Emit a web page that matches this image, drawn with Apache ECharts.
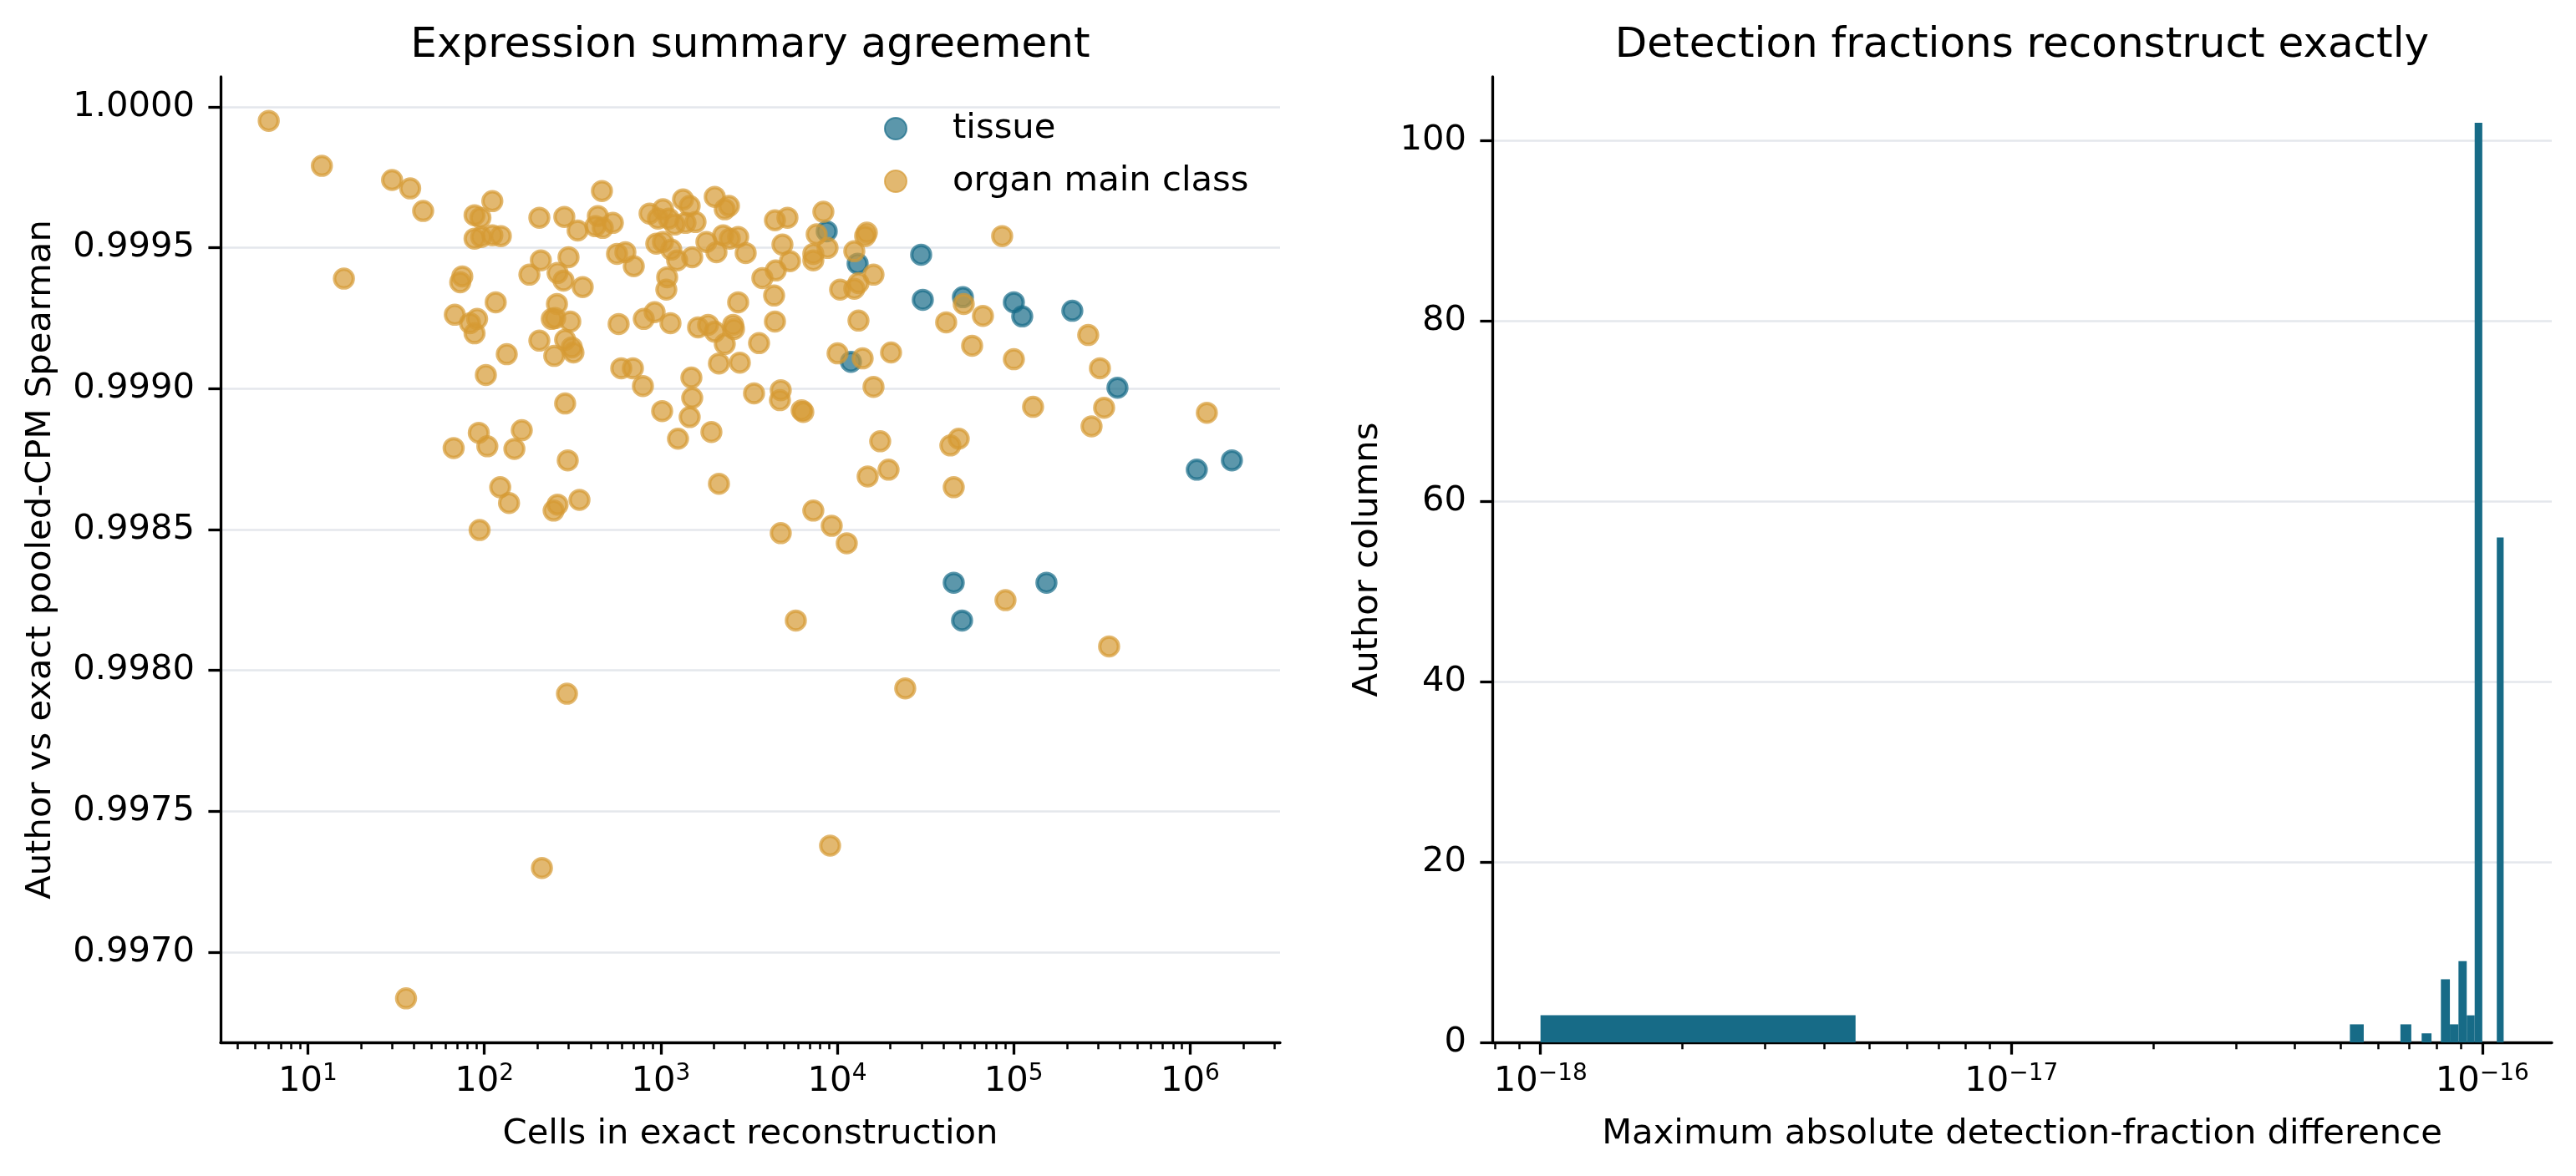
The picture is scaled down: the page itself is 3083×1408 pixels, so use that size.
<!doctype html>
<html>
<head>
<meta charset="utf-8">
<title>Expression summary agreement</title>
<script src="https://cdn.jsdelivr.net/npm/echarts@6.0.0/dist/echarts.min.js"></script>
<style>
    html, body {margin: 0; padding: 0; background: #fff;}
    #chart {width: 3083px; height: 1408px;}
</style>
</head>
<body>
<div id="chart"></div>
<script>
    // left panel: author vs exact pooled-CPM Spearman, by grouping level
    var tissueCells = [8718, 13050, 29890, 30550, 51550, 100250, 111800, 215000, 387500, 11960,
        1091000, 1725000, 45740, 153400, 50990];
    var tissueRho = [0.999558, 0.999443, 0.999475, 0.999315, 0.999324, 0.999306, 0.999256, 0.999276, 0.999003, 0.999095,
        0.998712, 0.998745, 0.998311, 0.998311, 0.998177];

    var organCells = [6, 12, 30, 38, 45, 16, 111, 88, 95, 88,
        96, 111, 124, 205, 284, 338, 464, 440, 426, 469,
        535, 209, 300, 180, 260, 281, 361, 75, 73, 116,
        68, 91, 83, 88, 134, 102, 258, 241, 252, 307,
        205, 287, 313, 320, 249, 287, 93, 163, 67, 104,
        148, 297, 123, 138, 247, 260, 346, 94, 294, 212,
        36, 565, 630, 703, 864, 1029, 964, 1110, 1198, 1381,
        1337, 1458, 1574, 943, 1029, 1147, 1238, 1507, 1087, 1075,
        577, 801, 923, 1135, 1627, 597, 695, 792, 1491, 1507,
        1018, 1458, 1252, 2022, 2305, 2434, 4437, 5223, 8346, 2256,
        2461, 2745, 1814, 2068, 3028, 4892, 7647, 8815, 7320, 7320,
        5397, 4485, 3765, 4388, 2745, 4437, 1854, 2022, 2571, 2599,
        2305, 3605, 2136, 2805, 3377, 4786, 4734, 6284, 6423, 1936,
        2136, 7320, 4786, 9307, 11325, 5826, 9107, 12495, 14713, 14396,
        16056, 10380, 12495, 13197, 13197, 10046, 13935, 20184, 16056, 17517,
        14876, 19537, 86040, 41440, 52120, 66970, 58140, 100250, 128800, 264500,
        308200, 325500, 276300, 43770, 48820, 45740, 1244000, 89870, 347400, 24290];
    var organRho = [0.99995, 0.99979, 0.99974, 0.99971, 0.99963, 0.99939, 0.999665, 0.999615, 0.999606, 0.999532,
        0.999538, 0.999544, 0.999541, 0.999606, 0.999609, 0.999561, 0.999701, 0.999612, 0.999576, 0.99957,
        0.999588, 0.999455, 0.999466, 0.999404, 0.99941, 0.999383, 0.99936, 0.999398, 0.999377, 0.999306,
        0.999262, 0.999247, 0.999232, 0.999196, 0.999122, 0.999048, 0.9993, 0.999247, 0.99925, 0.999238,
        0.99917, 0.999173, 0.999146, 0.999128, 0.999116, 0.998947, 0.998843, 0.998852, 0.998789, 0.998795,
        0.998786, 0.998745, 0.99865, 0.998594, 0.998567, 0.998588, 0.998605, 0.998498, 0.997917, 0.997299,
        0.996836, 0.999478, 0.999484, 0.999434, 0.999621, 0.999636, 0.999603, 0.999603, 0.999582, 0.999588,
        0.999671, 0.999648, 0.999591, 0.999514, 0.99952, 0.999493, 0.999455, 0.999466, 0.999395, 0.999351,
        0.999229, 0.999247, 0.999271, 0.999232, 0.999217, 0.999072, 0.999072, 0.999009, 0.999039, 0.998967,
        0.99892, 0.998899, 0.998822, 0.99968, 0.999636, 0.999648, 0.999597, 0.999606, 0.999627, 0.999544,
        0.999532, 0.999538, 0.99952, 0.999484, 0.999481, 0.999511, 0.999547, 0.999499, 0.999478, 0.999455,
        0.999452, 0.999419, 0.999392, 0.99933, 0.999306, 0.999238, 0.999226, 0.999202, 0.999226, 0.999211,
        0.999158, 0.999161, 0.999089, 0.999092, 0.998983, 0.998994, 0.998959, 0.998923, 0.998917, 0.998846,
        0.998662, 0.998567, 0.998487, 0.998513, 0.998451, 0.998177, 0.997378, 0.999487, 0.999553, 0.999541,
        0.999404, 0.999351, 0.999354, 0.999374, 0.999241, 0.999125, 0.999107, 0.999128, 0.999006, 0.998813,
        0.998688, 0.998712, 0.999541, 0.999235, 0.9993, 0.999258, 0.999152, 0.999104, 0.998935, 0.99919,
        0.999072, 0.998932, 0.998866, 0.998798, 0.998822, 0.99865, 0.998914, 0.998249, 0.998085, 0.997936];

    // right panel: histogram, 30 equal-width bins between binLo and binHi
    var binLo = 1e-18, binHi = 1.1102e-16;
    var binCounts = [3, 0, 0, 0, 0, 0, 0, 0, 0, 0,
        0, 0, 0, 0, 2, 0, 0, 0, 2, 0,
        1, 0, 7, 2, 9, 3, 102, 0, 0, 56];

    var xTicksLeft = [10, 100, 1e3, 1e4, 1e5, 1e6];
    var yTicksLeft = [0.997, 0.9975, 0.998, 0.9985, 0.999, 0.9995, 1.0];
    var xTicksRight = [1e-18, 1e-17, 1e-16];
    var yTicksRight = [0, 20, 40, 60, 80, 100];

    var orange = '#D69A33', teal = '#176B87';
    var font = 'DejaVu Sans';
    var tickFs = 41.7, gridColor = '#e4e7ec';

    var leftRange = [3.2, 3.234e6], rightRange = [7.9e-19, 1.4047e-16];

    function minorTicks(range) {
        var out = [];
        var d0 = Math.floor(Math.log10(range[0])), d1 = Math.ceil(Math.log10(range[1]));
        for (var d = d0; d <= d1; d++) {
            for (var k = 2; k <= 9; k++) {
                var v = k * Math.pow(10, d);
                if (v >= range[0] && v <= range[1]) out.push(v);
            }
        }
        return out;
    }

    function pairs(a, b) {
        return a.map(function (v, i) { return [v, b[i]]; });
    }

    var binWidth = (binHi - binLo) / binCounts.length;
    var histData = [];
    binCounts.forEach(function (c, i) {
        if (c > 0) histData.push([binLo + i * binWidth, binLo + (i + 1) * binWidth, c]);
    });

    function powLabel(v) {
        var e = Math.round(Math.log10(v));
        return '{b|10}{s|' + (e < 0 ? '\u2212' + (-e) : e) + '}';
    }
    var powRich = {
        b: {fontSize: tickFs, fontFamily: font, color: '#000', lineHeight: 46},
        s: {fontSize: 28, fontFamily: font, color: '#000', lineHeight: 28, verticalAlign: 'top'}
    };

    function majorX(range, ticks, grid) {
        return {
            type: 'log', logBase: 10, gridIndex: grid, min: range[0], max: range[1], position: 'bottom',
            axisLine: {show: true, onZero: false, lineStyle: {color: '#000', width: 3.3}},
            axisTick: {show: true, customValues: ticks, length: 14.6, lineStyle: {color: '#000', width: 3.3}},
            axisLabel: {show: true, customValues: ticks, margin: 24, formatter: powLabel, rich: powRich},
            splitLine: {show: false}, minorTick: {show: false}, minorSplitLine: {show: false}
        };
    }
    function minorX(range, grid) {
        return {
            type: 'log', logBase: 10, gridIndex: grid, min: range[0], max: range[1], position: 'bottom', offset: 0,
            axisLine: {show: false},
            axisTick: {show: true, customValues: minorTicks(range), length: 8.3, lineStyle: {color: '#000', width: 2.5}},
            axisLabel: {show: false}, splitLine: {show: false}
        };
    }
    function valueY(grid, min, max, ticks, fmt) {
        return {
            type: 'value', gridIndex: grid, min: min, max: max,
            axisLine: {show: true, onZero: false, lineStyle: {color: '#000', width: 3.3}},
            axisTick: {show: true, customValues: ticks, length: 14.6, lineStyle: {color: '#000', width: 3.3}},
            axisLabel: {show: true, customValues: ticks, margin: 31, fontSize: tickFs, fontFamily: font, color: '#000', formatter: fmt},
            splitLine: {show: true, lineStyle: {color: gridColor, width: 2.5}}
        };
    }

    function txt(x, y, s, size, rot) {
        return {
            type: 'text', x: x, y: y, rotation: rot || 0, silent: true,
            style: {text: s, fill: '#000', font: 'normal ' + size + 'px "' + font + '"',
                align: 'center', verticalAlign: 'middle', textAlign: 'center', textVerticalAlign: 'middle'}
        };
    }

    var chart = echarts.init(document.getElementById('chart'), null, {renderer: 'canvas'});
    var option = {
        animation: false,
        backgroundColor: '#fff',
        grid: [
            {left: 264, top: 92, width: 1268, height: 1156, containLabel: false, outerBoundsMode: 'none'},
            {left: 1786, top: 92, width: 1268, height: 1156, containLabel: false, outerBoundsMode: 'none'}
        ],
        xAxis: [
            majorX(leftRange, xTicksLeft, 0),
            minorX(leftRange, 0),
            majorX(rightRange, xTicksRight, 1),
            minorX(rightRange, 1)
        ],
        yAxis: [
            valueY(0, 0.99668, 1.000106, yTicksLeft, function (v) { return v.toFixed(4); }),
            valueY(1, 0, 107.1, yTicksRight, function (v) { return String(Math.round(v)); })
        ],
        legend: {
            orient: 'vertical', left: 1053, top: 124,
            itemWidth: 26, itemHeight: 26, itemGap: 13,
            data: ['tissue', 'organ main class'],
            textStyle: {fontSize: tickFs, fontFamily: font, color: '#000', lineHeight: 50, padding: [0, 0, 0, 50]}
        },
        graphic: [
            txt(898, 55, 'Expression summary agreement', 50),
            txt(2420, 55, 'Detection fractions reconstruct exactly', 50),
            txt(898, 1358, 'Cells in exact reconstruction', tickFs),
            txt(2420, 1358, 'Maximum absolute detection-fraction difference', tickFs),
            txt(49, 670, 'Author vs exact pooled-CPM Spearman', tickFs, Math.PI / 2),
            txt(1637, 670, 'Author columns', tickFs, Math.PI / 2)
        ],
        series: [
            {
                name: 'tissue', type: 'scatter', xAxisIndex: 0, yAxisIndex: 0,
                symbol: 'circle', symbolSize: 22.5,
                itemStyle: {color: teal, borderColor: teal, borderWidth: 4, opacity: 0.7},
                data: pairs(tissueCells, tissueRho)
            },
            {
                name: 'organ main class', type: 'scatter', xAxisIndex: 0, yAxisIndex: 0,
                symbol: 'circle', symbolSize: 22.5,
                itemStyle: {color: orange, borderColor: orange, borderWidth: 4, opacity: 0.7},
                data: pairs(organCells, organRho)
            },
            {
                name: 'hist', type: 'custom', xAxisIndex: 2, yAxisIndex: 1,
                encode: {x: [0, 1], y: 2},
                renderItem: function (params, api) {
                    var p0 = api.coord([api.value(0), 0]);
                    var p1 = api.coord([api.value(1), api.value(2)]);
                    return {
                        type: 'rect',
                        shape: {x: p0[0], y: p1[1], width: p1[0] - p0[0], height: p0[1] - p1[1]},
                        style: {fill: teal}
                    };
                },
                data: histData
            }
        ]
    };
    chart.setOption(option);
</script>
</body>
</html>
